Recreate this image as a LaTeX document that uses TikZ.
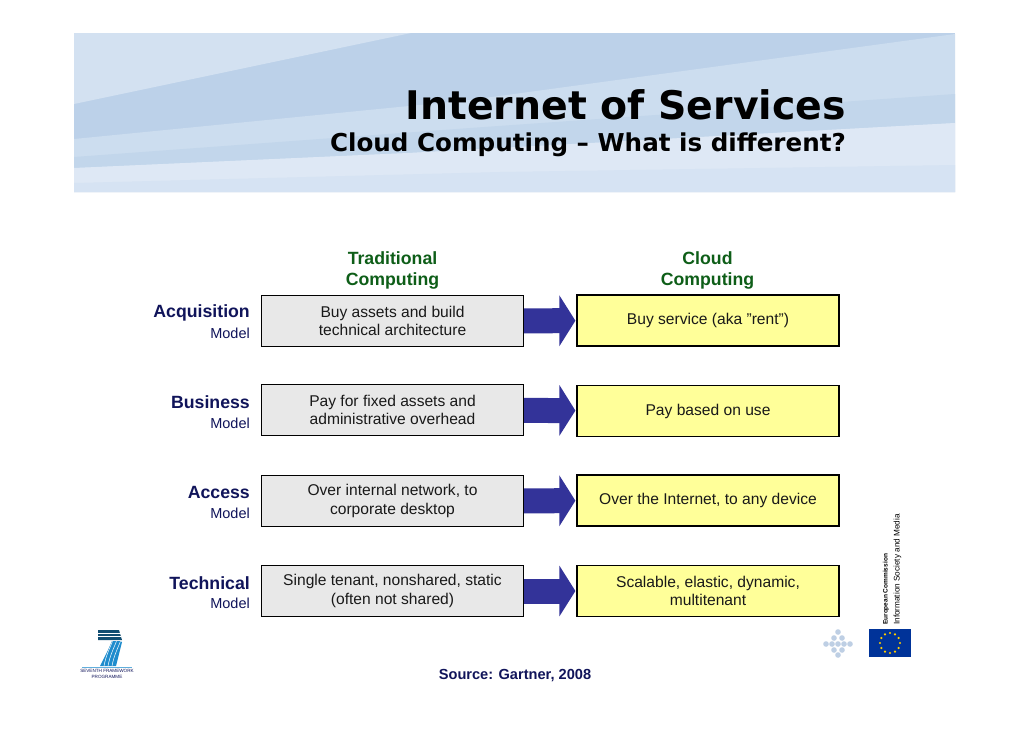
\documentclass[tikz,border=0pt]{standalone}
\usepackage{fontspec}
\setmainfont{Liberation Sans}
\newfontfamily\headfont{DejaVu Sans}
\definecolor{bandlight}{RGB}{211,225,241}
\definecolor{banddark}{RGB}{188,209,233}
\definecolor{bandmid}{RGB}{204,221,239}
\definecolor{bandpale}{RGB}{222,232,245}
\definecolor{bandfoot}{RGB}{214,227,243}
\definecolor{oldgrey}{RGB}{232,232,232}
\definecolor{cloudyellow}{RGB}{255,255,153}
\definecolor{flowblue}{RGB}{51,51,153}
\definecolor{headgreen}{RGB}{14,94,24}
\definecolor{rownavy}{RGB}{16,20,90}
\definecolor{fpblue}{RGB}{30,140,205}
\definecolor{eublue}{RGB}{0,51,153}
\definecolor{eustar}{RGB}{255,204,0}
\definecolor{dotblue}{RGB}{190,207,228}
\usetikzlibrary{arrows.meta,positioning,calc}
\begin{document}
\begin{tikzpicture}[x=1pt, y=-1pt,
  oldbx/.style={draw=black, line width=1.2pt, fill=oldgrey, minimum width=262pt, minimum height=51pt, align=center, font=\fontsize{15.6}{18.5}\selectfont, text=black!90},
  cloudbx/.style={draw=black, line width=1.2pt, fill=cloudyellow, minimum width=262pt, minimum height=51pt, align=center, font=\fontsize{15.6}{18.5}\selectfont, text=black!90},
  colhead/.style={align=center, font=\fontsize{17.7}{21}\selectfont, text=headgreen},
  rowmain/.style={anchor=east, inner sep=0pt, font=\bfseries\fontsize{17.7}{20}\selectfont, text=rownavy},
  rowsub/.style={anchor=east, inner sep=0pt, font=\fontsize{14.5}{16}\selectfont, text=rownavy},
  flow/.style={-{Triangle[length=16pt,width=50pt]}, line width=25pt, flowblue, shorten >=1pt}]
\useasboundingbox (0,0) rectangle (1030,728);
\fill[white] (0,0) rectangle (1030,728);
% header bands
\fill[banddark] (74,33) rectangle (955,192);
\fill[bandlight] (74,33) -- (411,33) -- (74,104) -- cycle;
\fill[bandmid] (955,34) -- (470,100) -- (74,139) -- (74,192) -- (955,192) -- cycle;
\fill[banddark!60!bandmid] (74,157) -- (470,128) -- (955,94) -- (955,123) -- (408,153) -- (74,168) -- cycle;
\fill[bandpale] (74,168) -- (408,153) -- (955,123) -- (955,192) -- (74,192) -- cycle;
\fill[bandfoot] (74,183) -- (500,172) -- (955,165) -- (955,192) -- (74,192) -- cycle;
\node[anchor=east, inner sep=0pt, font=\headfont\bfseries\fontsize{39.4}{44}\selectfont] (title) at (846,105) {Internet of Services};
\node[anchor=east, inner sep=0pt, font=\headfont\bfseries\fontsize{24.6}{28}\selectfont] (subtitle) at (846,145) {Cloud Computing – What is different?};
% columns
\node[colhead] (oldhead) at (392.5,270.5) {\textbf{Traditional}\\\textbf{Computing}};
\node[colhead] (cloudhead) at (707.5,270) {\textbf{Cloud}\\\textbf{Computing}};
% rows
\node[oldbx] (old1) at (392.5,321) {Buy assets and build\\technical architecture};
\node[oldbx] (old2) at (392.5,410) {Pay for fixed assets and\\administrative overhead};
\node[oldbx] (old3) at (392.5,501) {Over internal network, to\\corporate desktop};
\node[oldbx] (old4) at (392.5,591) {Single tenant, nonshared, static\\(often not shared)};
\node[cloudbx] (cloud1) at (708,320.5) {\raisebox{-1.5pt}{Buy service (aka "rent")}};
\node[cloudbx] (cloud2) at (708,411) {\raisebox{-1pt}{Pay based on use}};
\node[cloudbx] (cloud3) at (708,500.5) {\raisebox{-1pt}{Over the Internet, to any device}};
\node[cloudbx] (cloud4) at (708,591) {Scalable, elastic, dynamic,\\multitenant};
\node[rowmain] (acq) at (250,313) {Acquisition};
\node[rowsub] (acqsub) at (250,333.5) {Model};
\node[rowmain] (bus) at (250,402) {Business};
\node[rowsub] (bussub) at (250,423.5) {Model};
\node[rowmain] (acc) at (250,492) {Access};
\node[rowsub] (accsub) at (250,513) {Model};
\node[rowmain] (tec) at (250,583) {Technical};
\node[rowsub] (tecsub) at (250,603) {Model};
% arrows
\draw[flow] (old1) -- (cloud1);
\draw[flow] (old2) -- (cloud2);
\draw[flow] (old3) -- (cloud3);
\draw[flow] (old4) -- (cloud4);
% footer
\node[font=\bfseries\fontsize{14.6}{16}\selectfont, text=rownavy] (source) at (515,676) {Source: Gartner, 2008};
\node[rotate=90, anchor=west, align=left, inner sep=0pt] (ecname) at (892,625) {{\bfseries\fontsize{6.5}{8}\selectfont European Commission}\\{\fontsize{8.2}{9}\selectfont Information Society and Media}};
\fill[eublue] (869,629) rectangle (911,657);
\foreach \a in {0,30,...,330}
  \fill[eustar] ($(890,643)+(\a:10pt)$) circle (1.2pt);
\foreach \px/\py in {838/632, 834/638, 842/638, 826/644, 832/644, 838/644, 844/644, 850/644, 834/650, 842/650, 838/655}
  \fill[dotblue] (\px,\py) circle (2.8pt);
% seventh framework mark
\fill[fpblue!55!black] (98,630) -- (119,630) -- (122,640) -- (98,640) -- cycle;
\foreach \ybar in {633,636.5}
  \draw[white, line width=0.5pt] (98,\ybar) -- (121,\ybar);
\fill[fpblue] (120,641) -- (122,642) -- (116,666) -- (100,666) -- (108,650) -- (112,641) -- cycle;
\foreach \xs in {104,108,112}
  \draw[white, line width=0.5pt] (\xs,666) .. controls (\xs+2,655) and (\xs+6,648) .. (\xs+8.5,641);
\draw[fpblue!70, line width=0.8pt] (82,667) -- (132,667);
\node[align=center, inner sep=0pt, font=\fontsize{4.6}{5.5}\selectfont, text=rownavy] (fpname) at (107,674) {SEVENTH FRAMEWORK\\PROGRAMME};
\end{tikzpicture}
\end{document}
